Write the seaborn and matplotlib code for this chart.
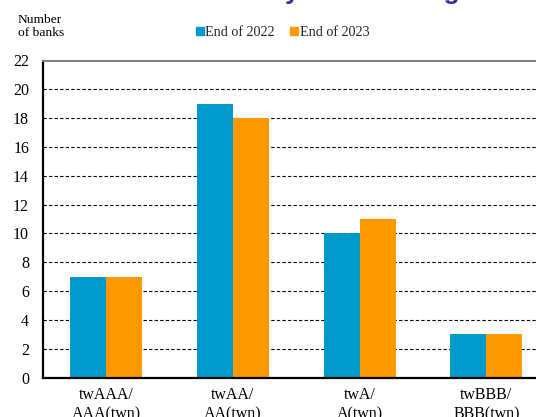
import matplotlib
matplotlib.use("Agg")
import matplotlib.pyplot as plt
import seaborn as sns
import pandas as pd
from matplotlib.ticker import FixedLocator
from matplotlib.lines import Line2D

categories = ["twAAA/\nAAA(twn)", "twAA/\nAA(twn)", "twA/\nA(twn)", "twBBB/\nBBB(twn)"]
series_names = ["End of 2022", "End of 2023"]
values_2022 = [7, 19, 10, 3]
values_2023 = [7, 18, 11, 3]
y_ticks = list(range(0, 23, 2))

colors = ["#0099CC", "#FF9900"]

df = pd.DataFrame({
    "rating": categories * 2,
    "period": [series_names[0]] * 4 + [series_names[1]] * 4,
    "banks": values_2022 + values_2023,
})

sns.set_theme(style="white")
plt.rcParams["font.family"] = ["Liberation Serif", "DejaVu Serif"]

W, H = 536, 417
fig = plt.figure(figsize=(W / 100, H / 100), dpi=100)
# axes run past the right edge of the figure
ax = fig.add_axes([43 / W, (H - 377.5) / H, 506.7 / W, 317 / H])

sns.barplot(data=df, x="rating", y="banks", hue="period", palette=colors,
            width=0.57, gap=0, saturation=1, ax=ax, legend=False,
            edgecolor="none", linewidth=0)

ax.set_xlim(-0.5, 3.5)
ax.set_ylim(0, 22)
ax.set_yticks(y_ticks)
ax.set_yticklabels([str(v) for v in y_ticks], fontsize=11.5, color="black")
ax.set_axisbelow(True)
for v in y_ticks[1:-1]:
    ax.axhline(v, color="black", linestyle=(0, (3, 2)), linewidth=0.8, zorder=0)

ax.set_xlabel("")
ax.set_ylabel("")
ax.tick_params(axis="y", length=0, pad=10)
ax.tick_params(axis="x", which="major", length=0, pad=6.5, labelsize=11.5,
               labelcolor="black")
for lbl in ax.get_xticklabels():
    lbl.set_linespacing(1.3)
ax.xaxis.set_minor_locator(FixedLocator([0.5, 1.5, 2.5]))
ax.tick_params(axis="x", which="minor", direction="in", length=4, width=1.2, color="black")

for side in ["left", "bottom"]:
    ax.spines[side].set_color("black")
    ax.spines[side].set_linewidth(1.6)
ax.spines["top"].set_color("#7f7f7f")
ax.spines["top"].set_linewidth(1.4)
ax.spines["right"].set_visible(False)

handles = [Line2D([], [], marker="s", linestyle="none", markersize=6,
                  markerfacecolor=c, markeredgecolor=c) for c in colors]
fig.legend(handles, series_names, loc="center", bbox_to_anchor=(282 / W, 1 - 32.5 / H),
           ncol=2, frameon=False, fontsize=10.2, handletextpad=0.05, columnspacing=1.0,
           handlelength=0.7)

fig.text(18 / W, 1 - 14 / H, "Number\nof banks", fontsize=9.7, va="top", ha="left",
         linespacing=1.15, color="black")

fig.text(59 / W, 1 + 1.5 / H, "Domestic banks by credit rating", fontsize=19,
         fontweight="bold", color="#333399", family="Liberation Sans",
         ha="left", va="baseline")

fig.savefig("out.png", dpi=100)
